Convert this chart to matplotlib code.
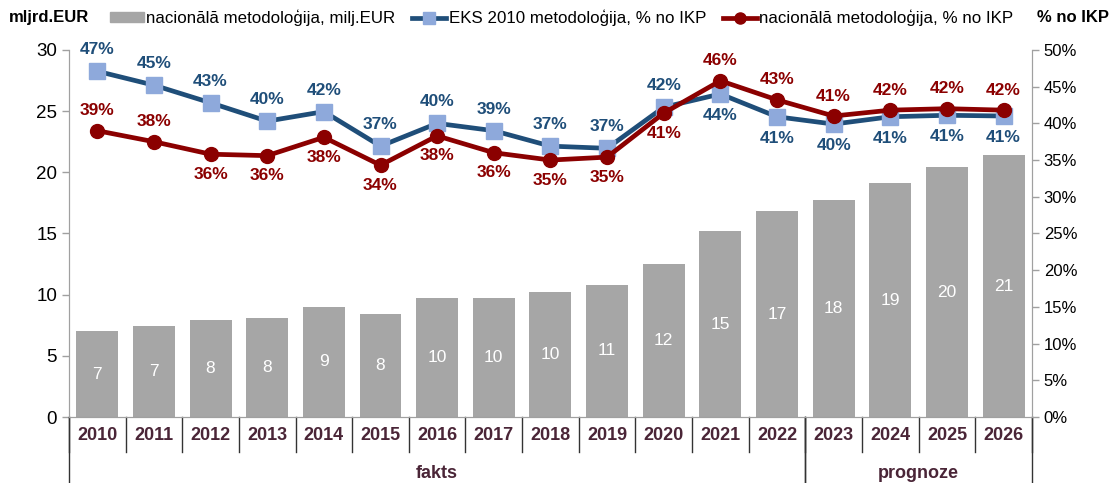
import matplotlib
matplotlib.use("Agg")
import matplotlib.pyplot as plt
from matplotlib.lines import Line2D
from matplotlib.patches import Patch
import matplotlib.transforms as mtransforms

plt.rcParams['font.family'] = ['Liberation Sans', 'DejaVu Sans']

years = [str(y) for y in range(2010, 2027)]
bars_eur = [7.0, 7.4, 7.9, 8.1, 9.0, 8.4, 9.7, 9.7, 10.2, 10.8, 12.5, 15.2, 16.8, 17.7, 19.1, 20.4, 21.4]
eks_pct = [47.1, 45.2, 42.8, 40.3, 41.6, 36.9, 40.0, 39.0, 36.9, 36.6, 42.2, 44.0, 40.9, 39.9, 40.9, 41.1, 41.0]
nat_pct = [39.0, 37.5, 35.8, 35.6, 38.1, 34.3, 38.3, 36.0, 35.0, 35.4, 41.4, 45.8, 43.2, 41.0, 41.8, 42.0, 41.8]
eks_above = [True]*11 + [False]*6
nat_above = [True, True] + [False]*9 + [True]*6
groups = [("fakts", 0, 12), ("prognoze", 13, 16)]

BAR = '#A6A6A6'
BLUE = '#1F4E79'
LBLUE = '#8EA9DB'
RED = '#8B0000'
XCOL = '#4A2537'
GRID = '#A0A0A0'

fig = plt.figure(figsize=(11.12, 4.83), dpi=100)
ax = fig.add_axes([0.062, 0.1366, 0.866, 0.76])
ax2 = ax.twinx()

x = list(range(len(years)))
ax.bar(x, bars_eur, width=0.74, color=BAR, zorder=2)
for xi, v in zip(x, bars_eur):
    ax.text(xi, v / 2, f"{round(v):d}", ha='center', va='center', color='white', fontsize=12.5)

ax2.plot(x, eks_pct, color=BLUE, lw=3.4, marker='s', ms=11, mfc=LBLUE, mec=LBLUE, zorder=3)
ax2.plot(x, nat_pct, color=RED, lw=3.4, marker='o', ms=10, mfc=RED, mec=RED, zorder=4)
for xi, v, up in zip(x, eks_pct, eks_above):
    ax2.annotate(f"{round(v):d}%", (xi, v), xytext=(0, 10 if up else -10), textcoords='offset points',
                 ha='center', va='bottom' if up else 'top', color=BLUE, fontsize=12.5, fontweight='bold')
for xi, v, up in zip(x, nat_pct, nat_above):
    ax2.annotate(f"{round(v):d}%", (xi, v), xytext=(0, 9 if up else -9), textcoords='offset points',
                 ha='center', va='bottom' if up else 'top', color=RED, fontsize=12.5, fontweight='bold')

ax.set_xlim(-0.5, len(years) - 0.5)
ax.set_ylim(0, 30)
ax2.set_ylim(0, 50)
ax.set_yticks(range(0, 31, 5))
ax2.set_yticks(range(0, 51, 5))
ax2.set_yticklabels([f"{v}%" for v in range(0, 51, 5)])
ax.set_xticks([])
for a in (ax, ax2):
    for s in a.spines.values():
        s.set_color(GRID)
    a.spines['top'].set_visible(False)
    a.tick_params(axis='y', colors='black', length=5, width=1, color=GRID)
ax.tick_params(axis='y', labelsize=13.5)
ax2.tick_params(axis='y', labelsize=12)

trans = mtransforms.blended_transform_factory(ax.transData, ax.transAxes)
for xi, yr in zip(x, years):
    ax.text(xi, -0.05, yr, transform=trans, ha='center', va='center', fontsize=13,
            fontweight='bold', color=XCOL)
for b in range(len(years) + 1):
    ax.plot([b - 0.5, b - 0.5], [0, -0.095], transform=trans, color='#333333', lw=1, clip_on=False)
for name, a0, a1 in groups:
    ax.text((a0 + a1) / 2, -0.155, name, transform=trans, ha='center', va='center', fontsize=13,
            fontweight='bold', color=XCOL)
    for b in (a0 - 0.5, a1 + 0.5):
        ax.plot([b, b], [0, -0.2], transform=trans, color='#333333', lw=1, clip_on=False)

fig.text(0.008, 0.963, "mljrd.EUR", fontsize=12, fontweight='bold', va='center', ha='left')
fig.text(0.997, 0.963, "% no IKP", fontsize=12, fontweight='bold', va='center', ha='right')

handles = [Patch(color=BAR),
           Line2D([], [], color=BLUE, lw=3.4, marker='s', ms=9, mfc=LBLUE, mec=LBLUE),
           Line2D([], [], color=RED, lw=3.4, marker='o', ms=8, mfc=RED, mec=RED)]
labels = ["nacionālā metodoloģija, milj.EUR", "EKS 2010 metodoloģija, % no IKP",
          "nacionālā metodoloģija, % no IKP"]
fig.legend(handles, labels, loc='center', bbox_to_anchor=(0.505, 0.963), ncol=3, frameon=False,
           fontsize=12.2, handlelength=2.0, handletextpad=0.15, columnspacing=1.0,
           handleheight=0.5)

fig.savefig("out.png", dpi=100)
